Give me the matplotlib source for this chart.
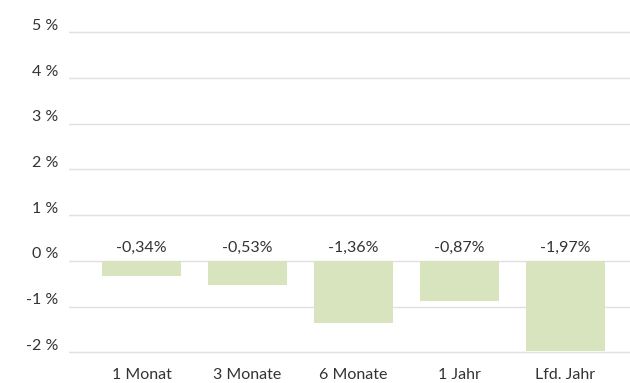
import matplotlib
matplotlib.use("Agg")
import matplotlib.pyplot as plt
import matplotlib.transforms as mtransforms

categories = ["1 Monat", "3 Monate", "6 Monate", "1 Jahr", "Lfd. Jahr"]
values = [-0.34, -0.53, -1.36, -0.87, -1.97]
y_ticks = [-2, -1, 0, 1, 2, 3, 4, 5]
y_tick_labels = ["-2 %", "-1 %", "0 %", "1 %", "2 %", "3 %", "4 %", "5 %"]

plt.rcParams["font.family"] = ["Lato", "DejaVu Sans"]
text_color = "#333333"
bar_color = "#d7e4bd"
grid_color = "#e0e0e0"
fs = 11.5

W, H = 630, 383
fig = plt.figure(figsize=(W / 100, H / 100), dpi=100)
ax_left, ax_right = 69, 630
ax_top, ax_bottom = 20, 360
ax = fig.add_axes([ax_left / W, 1 - ax_bottom / H,
                   (ax_right - ax_left) / W, (ax_bottom - ax_top) / H])

x = list(range(len(categories)))
ax.bar(x, values, width=0.745, color=bar_color, zorder=2)

ax.set_xlim(-0.684, 4.608)
ax.set_ylim(-2.17, 5.27)

ax.set_yticks(y_ticks)
ax.set_yticklabels(y_tick_labels)
ax.yaxis.grid(True, color=grid_color, linewidth=1.0, zorder=0)
ax.set_axisbelow(True)

ax.set_xticks(x)
ax.set_xticklabels(categories)
ax.tick_params(axis="x", length=0, pad=6, labelsize=fs, labelcolor=text_color)
ax.tick_params(axis="y", length=0, pad=8, labelsize=fs, labelcolor=text_color)

# lift the y tick labels above their grid lines
shift = mtransforms.ScaledTranslation(0, 8 / 100, fig.dpi_scale_trans)
for lbl in ax.get_yticklabels():
    lbl.set_transform(lbl.get_transform() + shift)

for s in ax.spines.values():
    s.set_visible(False)

for xi, v in zip(x, values):
    ax.annotate(f"{v:.2f}%".replace(".", ","), xy=(xi, 0), xytext=(0, 4),
                textcoords="offset points", ha="center", va="bottom",
                fontsize=fs, color=text_color)

fig.savefig("out.png", dpi=100)
